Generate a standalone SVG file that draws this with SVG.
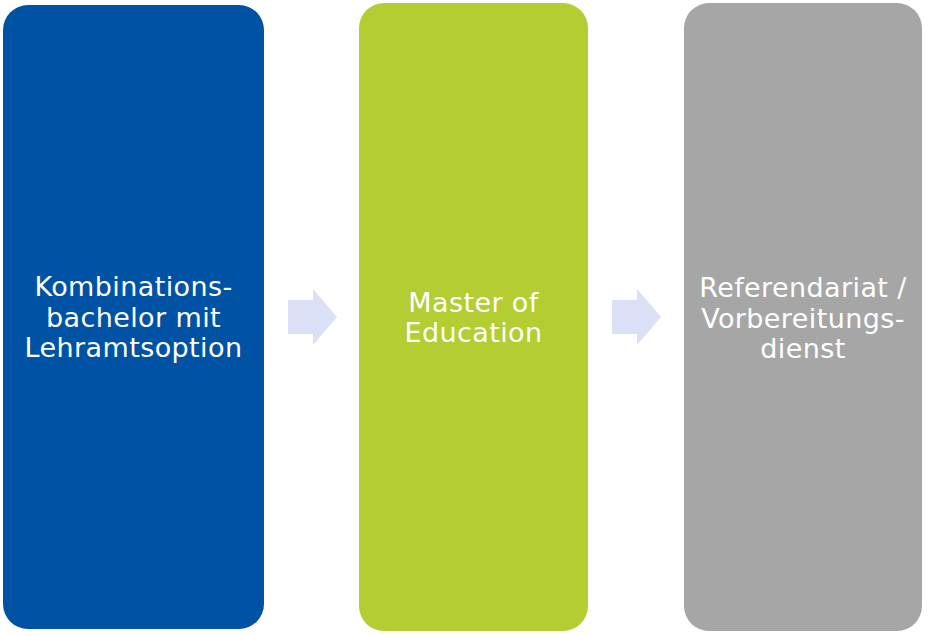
<svg xmlns="http://www.w3.org/2000/svg" width="930" height="635" viewBox="0 0 930 635">
<style>
.t{font-family:"DejaVu Sans",Verdana,sans-serif;font-size:27px;letter-spacing:0.4px;fill:#ffffff;text-anchor:middle}
.arrow{fill:#DCE0F7}
</style>
<rect width="930" height="635" fill="#ffffff"/>
<g id="node-bachelor">
<rect x="3" y="5" width="261" height="624" rx="25" ry="25" fill="#0053A4"/>
<text class="t" x="133.5" y="296">Kombinations-</text>
<text class="t" x="133.5" y="327">bachelor mit</text>
<text class="t" x="133.5" y="357">Lehramtsoption</text>
</g>
<g id="node-master">
<rect x="359" y="3" width="229" height="628" rx="25" ry="25" fill="#B3CD33"/>
<text class="t" x="473.5" y="312">Master of</text>
<text class="t" x="473.5" y="342">Education</text>
</g>
<g id="node-referendariat">
<rect x="684" y="3" width="238" height="628" rx="25" ry="25" fill="#A6A6A6"/>
<text class="t" x="803" y="297">Referendariat /</text>
<text class="t" x="803" y="328">Vorbereitungs-</text>
<text class="t" x="803" y="358">dienst</text>
</g>
<g id="connectors">
<polygon class="arrow" points="288,300 313,300 313,289 337,317 313,345 313,334 288,334"/>
<polygon class="arrow" points="612,300 637,300 637,289 661,317 637,345 637,334 612,334"/>
</g>
</svg>
